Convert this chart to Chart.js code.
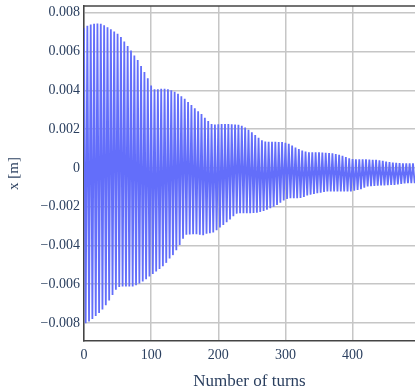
<!DOCTYPE html>
<html>
<head>
<meta charset="utf-8">
<script src="https://cdn.jsdelivr.net/npm/chart.js@4.4.1/dist/chart.umd.min.js"></script>
<style>
  html, body { margin: 0; padding: 0; background: #fff; }
  canvas { display: block; }
</style>
</head>
<body>
<canvas id="graficoOrbita" width="415" height="388"></canvas>
<script>
// turn spacing between successive maxima of the oscillation
var turnStep = 5;

// positive excursions, one per oscillation (turns 0, 5, 10, ...)
var upperPeaks = [
  0.00722, 0.00733, 0.00740, 0.00744, 0.00745, 0.00743, 0.00736, 0.00726, 0.00715, 0.00704,
  0.00692, 0.00675, 0.00652, 0.00628, 0.00605, 0.00580, 0.00556, 0.00525, 0.00495, 0.00462,
  0.00425, 0.00405, 0.00406, 0.00408, 0.00408, 0.00406, 0.00400, 0.00392, 0.00382, 0.00370,
  0.00356, 0.00340, 0.00324, 0.00308, 0.00292, 0.00278, 0.00258, 0.00242, 0.00226, 0.00224,
  0.00225, 0.00226, 0.00226, 0.00226, 0.00225, 0.00224, 0.00222, 0.00217, 0.00208, 0.00196,
  0.00184, 0.00170, 0.00155, 0.00142, 0.00136, 0.00135, 0.00135, 0.00135, 0.00134, 0.00133,
  0.00130, 0.00124, 0.00115, 0.00105, 0.00097, 0.00090, 0.00084, 0.00080, 0.00080, 0.00080,
  0.00080, 0.00079, 0.00078, 0.00077, 0.00075, 0.00072, 0.00068, 0.00062, 0.00056, 0.00050,
  0.00046, 0.00044, 0.00044, 0.00044, 0.00044, 0.00043, 0.00042, 0.00041, 0.00039, 0.00036,
  0.00033, 0.00030, 0.00027, 0.00026, 0.00025, 0.00024, 0.00024, 0.00024, 0.00024,
];

// negative excursions, half an oscillation later (turns 2.5, 7.5, ...)
var lowerPeaks = [
  -0.00802, -0.00793, -0.00780, -0.00764, -0.00748, -0.00730, -0.00708, -0.00684, -0.00656, -0.00628,
  -0.00614, -0.00612, -0.00612, -0.00612, -0.00612, -0.00605, -0.00597, -0.00586, -0.00574, -0.00560,
  -0.00547, -0.00534, -0.00522, -0.00508, -0.00490, -0.00468, -0.00450, -0.00425, -0.00398, -0.00365,
  -0.00345, -0.00343, -0.00342, -0.00342, -0.00345, -0.00347, -0.00340, -0.00337, -0.00333, -0.00322,
  -0.00308, -0.00294, -0.00280, -0.00266, -0.00250, -0.00236, -0.00234, -0.00234, -0.00234, -0.00234,
  -0.00233, -0.00232, -0.00227, -0.00222, -0.00216, -0.00208, -0.00200, -0.00192, -0.00180, -0.00168,
  -0.00160, -0.00157, -0.00156, -0.00156, -0.00155, -0.00150, -0.00142, -0.00138, -0.00134, -0.00131,
  -0.00128, -0.00124, -0.00122, -0.00122, -0.00122, -0.00122, -0.00122, -0.00122, -0.00122, -0.00121,
  -0.00118, -0.00114, -0.00110, -0.00102, -0.00096, -0.00094, -0.00093, -0.00092, -0.00091, -0.00090,
  -0.00089, -0.00088, -0.00088, -0.00086, -0.00083, -0.00080, -0.00079, -0.00079, -0.00079,
];

var xTicks = [0, 100, 200, 300, 400];
var yTicks = [-0.008, -0.006, -0.004, -0.002, 0, 0.002, 0.004, 0.006, 0.008];
var yTickLabels = ["\u22120.008", "\u22120.006", "\u22120.004", "\u22120.002", "0",
                   "0.002", "0.004", "0.006", "0.008"];

document.addEventListener("DOMContentLoaded", function () {
  var pontos = [];
  for (var i = 0; i < upperPeaks.length; i++) {
    pontos.push({ x: i * turnStep, y: upperPeaks[i] });
    pontos.push({ x: i * turnStep + turnStep / 2, y: lowerPeaks[i] });
  }

  var corTexto = "#2a3f5f";
  var corGrade = "#c6c6c6";
  var corEixo = "#444444";

  // top edge of the frame
  var moldura = {
    id: "moldura",
    afterDraw: function (chart) {
      var a = chart.chartArea;
      var c = chart.ctx;
      c.save();
      c.strokeStyle = corEixo;
      c.lineWidth = 1.5;
      c.beginPath();
      c.moveTo(a.left, a.top);
      c.lineTo(a.right, a.top);
      c.stroke();
      c.restore();
    },
  };

  var ctx = document.getElementById("graficoOrbita").getContext("2d");
  var graficoOrbita = new Chart(ctx, {
    type: "line",
    data: {
      datasets: [
        {
          label: "x",
          data: pontos,
          borderColor: "#636efa",
          borderWidth: 1.8,
          pointRadius: 0,
          tension: 0,
          fill: false,
        },
      ],
    },
    options: {
      responsive: false,
      animation: false,
      events: [],
      layout: { padding: { top: 6, right: 0, left: 0, bottom: 0 } },
      plugins: { legend: { display: false }, tooltip: { enabled: false } },
      scales: {
        x: {
          type: "linear",
          min: 0,
          max: 493,
          afterBuildTicks: function (s) {
            s.ticks = xTicks.map(function (v) { return { value: v }; });
          },
          afterFit: function (s) { s.height = 47; },
          grid: { color: corGrade, lineWidth: 1.5, drawTicks: false },
          border: { color: corEixo, width: 1.5 },
          ticks: {
            color: corTexto,
            padding: 6,
            maxRotation: 0,
            font: { family: "'Liberation Serif', serif", size: 14 },
          },
          title: {
            display: true,
            text: "Number of turns",
            color: corTexto,
            padding: { top: 0, bottom: -2 },
            font: { family: "'Liberation Serif', serif", size: 17, lineHeight: 1 },
          },
        },
        y: {
          type: "linear",
          min: -0.00893,
          max: 0.00835,
          afterBuildTicks: function (s) {
            s.ticks = yTicks.map(function (v) { return { value: v }; });
          },
          afterFit: function (s) {
            s.width = 84;
            s.paddingTop = 0;
          },
          grid: { color: corGrade, lineWidth: 1.5, drawTicks: false },
          border: { color: corEixo, width: 1.5 },
          ticks: {
            color: corTexto,
            padding: 4,
            font: { family: "'Liberation Serif', serif", size: 14 },
            callback: function (v) {
              var k = yTicks.indexOf(v);
              return k >= 0 ? yTickLabels[k] : "";
            },
          },
          title: {
            display: true,
            text: "x [m]",
            color: corTexto,
            padding: { top: 7, bottom: 0 },
            font: { family: "'Liberation Serif', serif", size: 15, lineHeight: 1 },
          },
        },
      },
    },
    plugins: [moldura],
  });
});
</script>
</body>
</html>
